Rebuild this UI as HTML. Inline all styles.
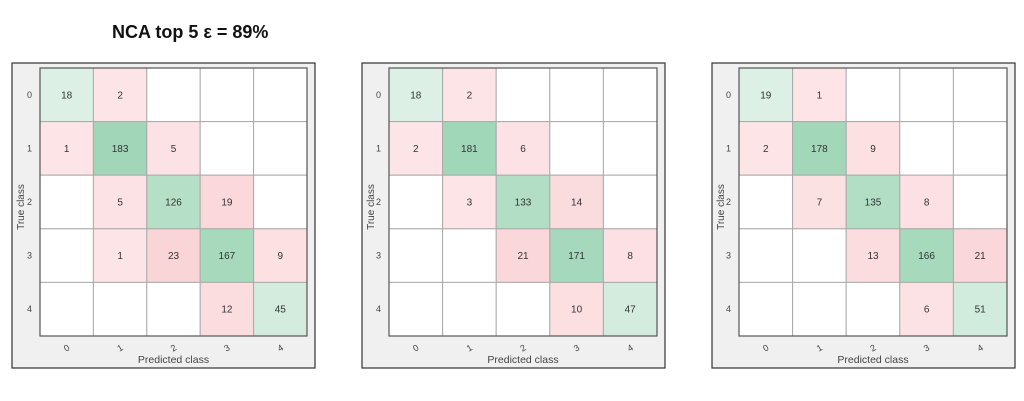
<!DOCTYPE html>
<html><head><meta charset="utf-8"><style>
html,body{margin:0;padding:0;background:#fff;width:1024px;height:401px;overflow:hidden}
</style></head><body>
<svg id="s" width="1024" height="401" xmlns="http://www.w3.org/2000/svg" font-family="Liberation Sans, Arial, sans-serif">
<text x="112" y="38" font-size="18" font-weight="bold" fill="#111">NCA top 5 ε = 89%</text>
</svg>
<script>
var S=document.getElementById('s');
var panels=[
 {bx:12,bw:303,gx:40,gw:267,m:[[18,2,0,0,0],[1,183,5,0,0],[0,5,126,19,0],[0,1,23,167,9],[0,0,0,12,45]]},
 {bx:362,bw:303,gx:389,gw:268,m:[[18,2,0,0,0],[2,181,6,0,0],[0,3,133,14,0],[0,0,21,171,8],[0,0,0,10,47]]},
 {bx:712,bw:303,gx:739,gw:268,m:[[19,1,0,0,0],[2,178,9,0,0],[0,7,135,8,0],[0,0,13,166,21],[0,0,0,6,51]]}
];
function lerp(a,b,t){return Math.round(a+(b-a)*t)}
function col(v,diag){
 if(!v)return '#ffffff';
 if(diag){var t=Math.min(1,v/185);return 'rgb('+lerp(228,160,t)+','+lerp(243,214,t)+','+lerp(234,184,t)+')';}
 var t=Math.min(1,v/25);return 'rgb('+lerp(253,249,t)+','+lerp(230,212,t)+','+lerp(232,215,t)+')';
}
var h='';
panels.forEach(function(p){
 var by=63,bh=305,gy=68,gh=268,cw=p.gw/5,ch=gh/5;
 h+='<rect x="'+p.bx+'" y="'+by+'" width="'+p.bw+'" height="'+bh+'" fill="#f0f0f0" stroke="#333" stroke-width="1.2"/>';
 for(var r=0;r<5;r++)for(var c=0;c<5;c++){
  var v=p.m[r][c],x=p.gx+c*cw,y=gy+r*ch;
  h+='<rect x="'+x+'" y="'+y+'" width="'+cw+'" height="'+ch+'" fill="'+col(v,r==c)+'" stroke="#aaa" stroke-width="1"/>';
  if(v)h+='<text x="'+(x+cw/2)+'" y="'+(y+ch/2+3.5)+'" font-size="10" text-anchor="middle" fill="#333">'+v+'</text>';
 }
 h+='<rect x="'+p.gx+'" y="'+gy+'" width="'+p.gw+'" height="'+gh+'" fill="none" stroke="#555" stroke-width="1.2"/>';
 for(var i=0;i<5;i++){
  h+='<text x="'+(p.gx-8)+'" y="'+(gy+i*ch+ch/2+3)+'" font-size="9" text-anchor="end" fill="#444">'+i+'</text>';
  var tx=p.gx+i*cw+cw/2;
  h+='<text x="'+tx+'" y="'+(gy+gh+15)+'" font-size="9" text-anchor="middle" fill="#444" transform="rotate(-30 '+tx+' '+(gy+gh+12)+')">'+i+'</text>';
 }
 h+='<text x="'+(p.gx+p.gw/2)+'" y="'+(gy+gh+27)+'" font-size="10.5" text-anchor="middle" fill="#444">Predicted class</text>';
 var lx=p.bx+12,ly=gy+gh/2+5;
 h+='<text x="'+lx+'" y="'+ly+'" font-size="10" text-anchor="middle" fill="#444" transform="rotate(-90 '+lx+' '+ly+')">True class</text>';
});
S.insertAdjacentHTML('beforeend',h);
</script>
</body></html>
